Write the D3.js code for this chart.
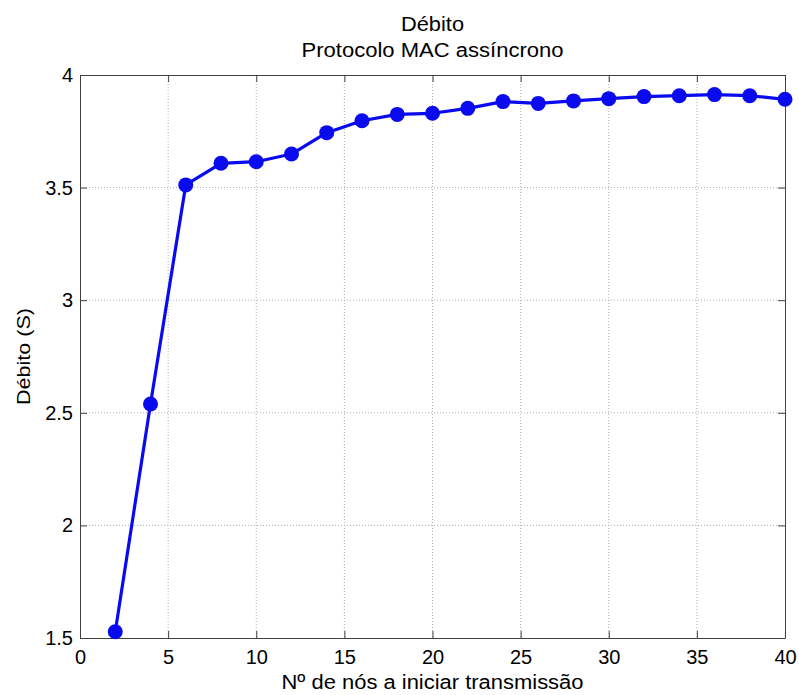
<!DOCTYPE html>
<html><head><meta charset="utf-8">
<script src="https://cdn.jsdelivr.net/npm/d3@7"></script>
<style>body{margin:0;background:#fff}svg{display:block}text{font-family:"Liberation Sans",Arial,sans-serif}</style>
</head><body><svg id="c" width="799" height="695"></svg>
<script>
const nodes = [2,4,6,8,10,12,14,16,18,20,22,24,26,28,30,32,34,36,38,40];
const throughput = [1.528,2.539,3.512,3.608,3.615,3.649,3.744,3.797,3.825,3.830,3.852,3.882,3.874,3.885,3.895,3.904,3.908,3.913,3.908,3.892];
const xTicks = [0,5,10,15,20,25,30,35,40];
const yTicks = [1.5,2,2.5,3,3.5,4];
const titleLines = ["Débito","Protocolo MAC assíncrono"];
const xLabel = "Nº de nós a iniciar transmissão";
const yLabel = "Débito (S)";

const svg = d3.select("#c");
const L=80,R=785,T=75,B=638;
const x = d3.scaleLinear().domain([0,40]).range([L,R]);
const y = d3.scaleLinear().domain([1.5,4]).range([B,T]);
const axisCol="#404040";
const cx=(L+R)/2;

// grid
const g = svg.append("g");
g.selectAll(".gx").data(xTicks.slice(1,-1)).enter().append("line")
 .attr("x1",d=>x(d)).attr("x2",d=>x(d)).attr("y1",T).attr("y2",B)
 .attr("stroke","#b0b0b0").attr("stroke-width",1).attr("stroke-dasharray","1,2");
g.selectAll(".gy").data(yTicks.slice(1,-1)).enter().append("line")
 .attr("y1",d=>y(d)).attr("y2",d=>y(d)).attr("x1",L).attr("x2",R)
 .attr("stroke","#b0b0b0").attr("stroke-width",1).attr("stroke-dasharray","1,2");

// axes
const fmt = d=>String(d);
const styleText = a=>a.selectAll("text").attr("font-size",20).attr("fill","#000").attr("font-family","Liberation Sans, Arial, sans-serif");
svg.append("g").attr("transform",`translate(0,${B})`)
 .call(d3.axisBottom(x).tickValues(xTicks).tickFormat(fmt).tickSizeInner(-7).tickSizeOuter(0).tickPadding(12))
 .call(a=>{a.select(".domain").attr("stroke",axisCol);a.selectAll("line").attr("stroke",axisCol);styleText(a);});
svg.append("g").attr("transform",`translate(0,${T})`)
 .call(d3.axisTop(x).tickValues(xTicks).tickFormat("").tickSizeInner(-7).tickSizeOuter(0))
 .call(a=>{a.select(".domain").attr("stroke",axisCol);a.selectAll("line").attr("stroke",axisCol);});
svg.append("g").attr("transform",`translate(${L},0)`)
 .call(d3.axisLeft(y).tickValues(yTicks).tickFormat(fmt).tickSizeInner(-7).tickSizeOuter(0).tickPadding(7))
 .call(a=>{a.select(".domain").attr("stroke",axisCol);a.selectAll("line").attr("stroke",axisCol);styleText(a);});
svg.append("g").attr("transform",`translate(${R},0)`)
 .call(d3.axisRight(y).tickValues(yTicks).tickFormat("").tickSizeInner(-7).tickSizeOuter(0))
 .call(a=>{a.select(".domain").attr("stroke",axisCol);a.selectAll("line").attr("stroke",axisCol);});

// line + markers
const data = nodes.map((n,i)=>({n,v:throughput[i]}));
svg.append("path").datum(data)
 .attr("d",d3.line().x(d=>x(d.n)).y(d=>y(d.v)))
 .attr("fill","none").attr("stroke","#0a0aee").attr("stroke-width",3.2).attr("stroke-linejoin","round");
svg.selectAll(".pt").data(data).enter().append("circle")
 .attr("cx",d=>x(d.n)).attr("cy",d=>y(d.v)).attr("r",7.5).attr("fill","#0a0aee");

// titles & labels
function label(txt,xx,yy,size,len){
  const t=svg.append("text").attr("x",xx).attr("y",yy).attr("text-anchor","middle").attr("font-size",size).text(txt);
  if(len) t.attr("textLength",len).attr("lengthAdjust","spacingAndGlyphs");
  return t;
}
label(titleLines[0],cx,31,20,63);
label(titleLines[1],cx,57,20,262);
label(xLabel,cx,689,20,302);
svg.append("text").attr("transform",`translate(30,${(T+B)/2}) rotate(-90)`).attr("text-anchor","middle").attr("font-size",18)
 .attr("textLength",97).attr("lengthAdjust","spacingAndGlyphs").text(yLabel);
</script></body></html>
